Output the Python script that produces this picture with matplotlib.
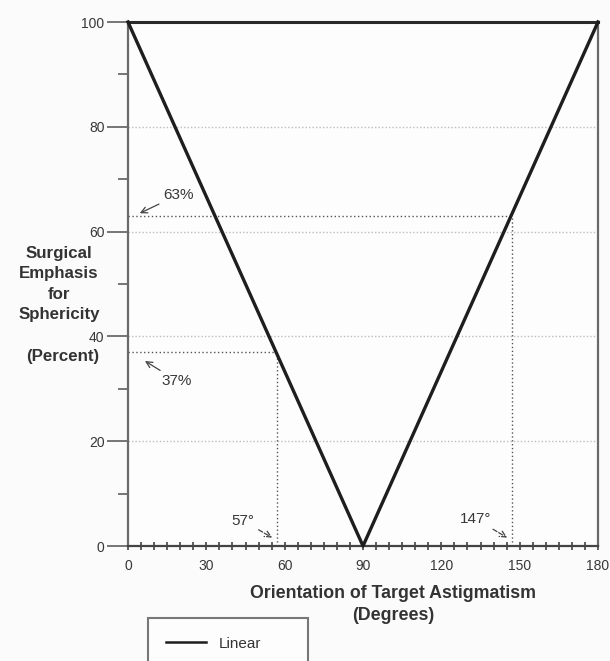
import numpy as np
import matplotlib
matplotlib.use("Agg")
import matplotlib.pyplot as plt
from matplotlib.ticker import MultipleLocator
from matplotlib.lines import Line2D

# --- dane ---
angles = [0, 90, 180]
emphasis = [100, 0, 100]

marked_angles = [57, 147]
marked_values = [37, 63]

x_ticks = [0, 30, 60, 90, 120, 150, 180]
y_ticks = [0, 20, 40, 60, 80, 100]

plt.rcParams['font.family'] = ['Liberation Sans', 'DejaVu Sans']

fig = plt.figure(figsize=(6.10, 6.61), dpi=100)
fig.patch.set_facecolor('#fbfbfb')
ax = fig.add_axes([128/610, 1 - 546/661, 470/610, 524/661])
ax.set_facecolor('#fdfdfd')

ax.set_xlim(0, 180)
ax.set_ylim(0, 100)

# siatka
for yv in [20, 40, 60, 80]:
    ax.axhline(yv, color='#bdbdbd', lw=1.0, ls=(0, (1, 1.5)), zorder=1)

# linie pomocnicze dla zaznaczonych punktów
for a, v in zip(marked_angles, marked_values):
    ax.plot([0, a], [v, v], color='#555555', lw=1.0, ls=(0, (1, 1.8)), zorder=2)
    ax.plot([a, a], [0, v], color='#555555', lw=1.0, ls=(0, (1, 1.8)), zorder=2)

ax.plot(angles, emphasis, color='#1e1e1e', lw=2.4, zorder=3, clip_on=False, label='Linear')

# ramka
for side in ['left', 'right', 'bottom']:
    ax.spines[side].set_color('#6a6a6a')
    ax.spines[side].set_linewidth(1.6)
ax.spines['top'].set_color('#2a2a2a')
ax.spines['top'].set_linewidth(2.2)
ax.spines['bottom'].set_color('#444444')

ax.set_xticks(x_ticks)
ax.xaxis.set_minor_locator(MultipleLocator(5))
ax.set_yticks(y_ticks)
ax.yaxis.set_minor_locator(MultipleLocator(10))
ax.tick_params(axis='x', which='both', direction='inout', length=6, width=1.2,
               color='#444444', labelsize=10, labelcolor='#383838', pad=6)
ax.tick_params(axis='y', which='major', direction='out', length=15, width=1.3,
               color='#6a6a6a', labelsize=10, labelcolor='#383838', pad=2)
ax.tick_params(axis='y', which='minor', direction='out', length=7, width=1.3,
               color='#6a6a6a')

# etykieta osi Y w dwóch częściach (żeby nie nachodziła na "40")
ax.set_ylabel("Surgical\nEmphasis\nfor\nSphericity", rotation=0,
              fontsize=12.2, fontweight='bold', color='#333333',
              ha='center', va='center', linespacing=1.46)
ax.yaxis.set_label_coords(-0.147, 0.5)
ax.text(-0.140, 0.362, "(Percent)", transform=ax.transAxes, fontsize=12.2,
        fontweight='bold', color='#333333', ha='center', va='center')

ax.set_xlabel("Orientation of Target Astigmatism\n(Degrees)", fontsize=12.8,
              fontweight='bold', color='#333333', linespacing=1.35)
ax.xaxis.set_label_coords(0.564, -0.075)

# adnotacje
ap = dict(arrowstyle='->', color='#444444', lw=0.9, shrinkA=1, shrinkB=0)
ax.annotate("63%", xy=(4.5, 63.5), xytext=(13.4, 67), fontsize=11, color='#383838',
            ha='left', va='center', arrowprops=ap)
ax.annotate("37%", xy=(6.5, 35.3), xytext=(13.0, 31.5), fontsize=11, color='#383838',
            ha='left', va='center', arrowprops=ap)
apd = dict(arrowstyle='->', color='#444444', lw=0.9, ls='--', shrinkA=1, shrinkB=0)
ax.annotate("57°", xy=(55.2, 1.6), xytext=(48.5, 4.8), fontsize=11, color='#383838',
            ha='right', va='center', arrowprops=apd)
ax.annotate("147°", xy=(145.2, 1.6), xytext=(139.0, 5.2), fontsize=11, color='#383838',
            ha='right', va='center', arrowprops=apd)

handles = [Line2D([0], [0], color='#1e1e1e', lw=1.8)]
leg = fig.legend(handles, ['Linear'], loc='upper left',
                 bbox_to_anchor=(148/610, 1 - 619/661, 160/610, 0.001), mode='expand',
                 fancybox=False, edgecolor='#777777', facecolor='#fdfdfd', framealpha=1,
                 fontsize=11, borderpad=1.2, handlelength=2.6, handletextpad=0.8,
                 borderaxespad=0)
leg.get_frame().set_linewidth(1.5)
for t in leg.get_texts():
    t.set_color('#333333')

fig.savefig("out.png", dpi=100, facecolor=fig.get_facecolor())
